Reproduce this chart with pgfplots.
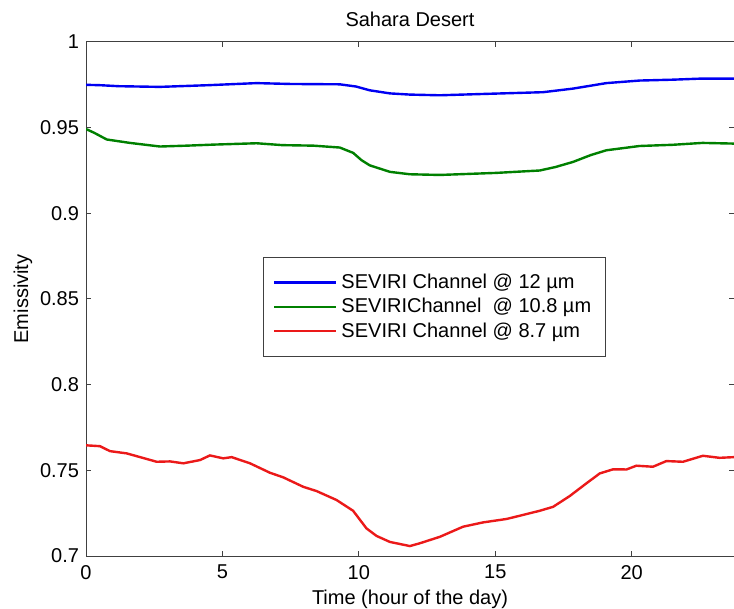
\documentclass[border=0pt]{standalone}
\usepackage{fontspec}
\setmainfont{Liberation Sans}
\usepackage{pgfplots}
\pgfplotsset{compat=1.18}
\definecolor{cblue}{rgb}{0,0,0.95}
\definecolor{cgreen}{rgb}{0,0.5,0}
\definecolor{cred}{rgb}{0.92,0.1,0.1}
\begin{document}
\fontsize{10bp}{12bp}\selectfont
\begin{tikzpicture}
\useasboundingbox (-43bp,-26.5bp) rectangle (324bp,278bp);
\begin{axis}[
  at={(0,0)}, anchor=south west,
  scale only axis, width=324bp, height=257bp,
  xmin=0, xmax=23.75, ymin=0.7, ymax=1,
  xtick={0,5,10,15,20},
  ytick={0.7,0.75,0.8,0.85,0.9,0.95,1},
  yticklabels={0.7,0.75,0.8,0.85,0.9,0.95,1},
  tick align=inside, major tick length=2.5bp,
  /pgf/number format/assume math mode=true,
  tick label style={font=\fontsize{10bp}{12bp}\selectfont},
  xticklabel style={yshift=-1bp},
  label style={font=\fontsize{10bp}{12bp}\selectfont},
  axis line style={black!75, line width=0.5bp},
  every tick/.style={black!75, line width=0.5bp},
  every axis title shift=0pt,
  title={Sahara Desert},
  title style={at={(axis description cs:0.5,1.0292)}, anchor=base, yshift=0pt, font=\fontsize{10bp}{12bp}\selectfont},
  xlabel={Time (hour of the day)},
  xlabel style={at={(axis description cs:0.5,-0.0934)}, anchor=base},
  ylabel={Emissivity},
  ylabel style={at={(axis description cs:-0.0895,0.5)}, anchor=base},
  legend style={at={(axis cs:6.48,0.8744)}, anchor=north west, draw=black!75, line width=0.5bp,
    font=\fontsize{10bp}{12bp}\selectfont, row sep=-0.5bp, inner xsep=5bp, inner ysep=6bp},
  legend cell align=left,
  legend image code/.code={\draw[#1, line width=1.1bp] (0bp,0bp) -- (31bp,0bp);},
  every axis plot/.append style={line width=1.2bp},
]
\addplot[cblue] coordinates {
(0,0.975) (0.5,0.9748) (1.2,0.9742) (2.7,0.9738) (4.5,0.9748) (6.25,0.976) (7.5,0.9755) (9.3,0.9753) (9.9,0.974) (10.4,0.9718) (11.14,0.970) (11.87,0.9693) (12.97,0.9689) (15.04,0.9699) (16.75,0.9707) (17.85,0.9728) (19.07,0.976) (20.29,0.9775) (21.5,0.978) (22.49,0.9786) (23.75,0.9786)
};
\addlegendentry{SEVIRI Channel @ 12 µm}
\addplot[cgreen] coordinates {
(0,0.9492) (0.3,0.947) (0.76,0.9431) (1.61,0.9411) (2.71,0.939) (3.7,0.9395) (4.66,0.9401) (6.25,0.9409) (7.2,0.9398) (8.33,0.9395) (9.3,0.9384) (9.79,0.9353) (10.1,0.931) (10.4,0.928) (11.14,0.9242) (11.87,0.9228) (12.97,0.9224) (15.04,0.9236) (16.63,0.925) (17.2,0.927) (17.85,0.930) (18.5,0.934) (19.07,0.9368) (20.29,0.9393) (21.5,0.940) (22.6,0.9411) (23.75,0.9407)
};
\addlegendentry{SEVIRIChannel\ \ @ 10.8 µm}
\addplot[cred] coordinates {
(0,0.7646) (0.51,0.7641) (0.88,0.7612) (1.49,0.7599) (2.59,0.755) (3.08,0.7552) (3.57,0.7541) (4.18,0.756) (4.54,0.7587) (5.03,0.757) (5.34,0.7577) (6.01,0.7541) (6.74,0.7486) (7.23,0.7459) (7.96,0.7404) (8.45,0.7379) (9.18,0.7327) (9.79,0.7264) (10.28,0.7161) (10.65,0.7117) (11.14,0.7082) (11.87,0.7058) (12.23,0.7074) (12.97,0.7112) (13.82,0.7171) (14.55,0.7196) (15.41,0.7216) (15.9,0.7235) (16.63,0.7264) (17.12,0.7287) (17.73,0.735) (18.34,0.7424) (18.83,0.7482) (19.32,0.7506) (19.81,0.7505) (20.17,0.7527) (20.78,0.7521) (21.27,0.7554) (21.88,0.755) (22.61,0.7585) (23.22,0.7573) (23.75,0.7577)
};
\addlegendentry{SEVIRI Channel @ 8.7 µm}
\end{axis}
\end{tikzpicture}
\end{document}
